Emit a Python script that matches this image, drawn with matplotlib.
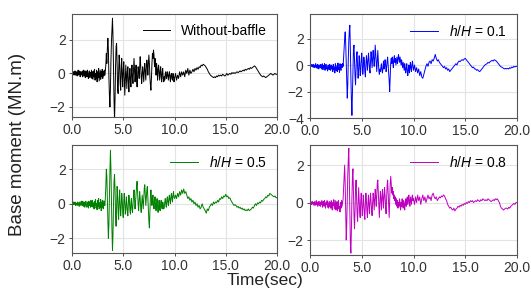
import numpy as np
import matplotlib
matplotlib.use("Agg")
import matplotlib.pyplot as plt

plt.rcParams['font.family'] = ['Liberation Sans', 'DejaVu Sans']
plt.rcParams['mathtext.fontset'] = 'custom'
plt.rcParams['mathtext.rm'] = 'Liberation Sans'
plt.rcParams['mathtext.it'] = 'Liberation Sans:italic'

# ---------------- data (MN.m) ----------------
# early part: 0.00 .. 9.95 s every 0.05 s ; late part: 10.0 .. 20.0 s every 0.1 s
early_step = 0.05
late_step = 0.1
late_start = 10.0

without_early = [
    0.0, 0.05, -0.05, 0.1, -0.1, 0.05, 0.15, -0.1, 0.0, 0.1, -0.15, 0.05, 0.2, -0.1, -0.05, 0.15, -0.2, 0.1, 0.0, -0.1,
    0.15, -0.2, 0.05, 0.2, -0.15, 0.1, -0.25, 0.15, 0.0, -0.2, 0.2, -0.1, -0.3, 0.1, 0.15, -0.25, 0.05, -0.1, 0.2, -0.3,
    0.1, -0.35, 0.15, -0.2, 0.25, -0.4, 0.0, -0.3, 0.2, -0.5, 0.1, -0.25, 0.3, -0.45, -0.1, 0.2, -0.35, 0.1, -0.2, 0.25,
    -0.3, 0.1, -0.15, 0.2, -0.1, 0.15, 0.5, 1.2, 0.6, 1.5, 2.1, 1.4, -0.2, -1.3, -2.0, -0.9, 0.8, 1.9, 2.6, 3.3,
    2.2, 0.3, -1.6, -2.8, -1.5, 0.4, 1.6, 1.8, 0.6, -0.9, -1.2, 0.1, 1.1, 0.6, -0.6, -1.0, 0.3, 0.9, -0.2, -0.8,
    0.2, 0.7, -0.4, -1.3, -0.3, 0.5, -0.2, -0.9, 0.1, 0.4, -0.5, -1.1, -0.2, 0.3, -0.4, -0.8, 0.0, 0.5, -0.3, -0.6,
    0.1, 0.9, 0.2, -0.5, -0.1, 0.5, -0.3, -0.8, -0.1, 0.4, 0.2, -0.3, 0.4, 1.0, 0.5, -0.2, -0.6, 0.0, 0.4, -0.1,
    -0.5, 0.2, 0.6, 0.1, -0.4, 0.3, 0.8, 0.5, -0.1, 0.6, 1.1, 0.6, -0.2, -0.7, -1.0, -0.3, 0.6, 1.2, 0.9, 1.4,
    1.1, 0.4, 0.9, 0.5, -0.1, 0.6, 0.3, -0.4, 0.2, 0.5, 0.0, -0.4, 0.1, 0.4, -0.2, -0.5, 0.1, 0.3, -0.3, -0.5,
    -0.2, -0.4, 0.0, 0.1, -0.3, -0.2, 0.1, -0.1, -0.4, -0.1, 0.1, -0.2, -0.5, -0.1, 0.0, -0.3, -0.4, 0.0, -0.1, -0.5,
]
without_late = [
    -0.3, 0.0, -0.4, -0.1, -0.3, 0.1, -0.2, 0.1, -0.1, 0.1,
    -0.2, 0.2, 0.0, 0.3, -0.1, 0.2, 0.0, 0.1, 0.25, 0.1,
    0.3, 0.2, 0.35, 0.25, 0.4, 0.35, 0.5, 0.45, 0.55, 0.5,
    0.45, 0.35, 0.25, 0.1, 0.0, -0.1, -0.15, -0.2, -0.25, -0.2,
    -0.25, -0.15, -0.2, -0.1, -0.15, -0.1, -0.15, -0.05, -0.1, -0.15,
    -0.1, 0.0, -0.1, -0.05, 0.0, -0.05, 0.05, 0.0, 0.05, 0.0,
    0.05, 0.1, 0.05, 0.1, 0.15, 0.1, 0.15, 0.2, 0.15, 0.25,
    0.2, 0.25, 0.3, 0.25, 0.35, 0.3, 0.35, 0.4, 0.45, 0.4,
    0.3, 0.2, 0.1, 0.0, -0.1, -0.15, -0.2, -0.15, -0.2, -0.25,
    -0.2, -0.15, -0.1, -0.05, 0.0, -0.05, -0.1, -0.05, 0.0, -0.05,
    -0.05,
]

h01_early = [
    0.0, -0.05, 0.05, -0.1, 0.0, -0.15, 0.05, -0.1, -0.2, 0.0, -0.15, 0.1, -0.2, -0.05, -0.25, 0.05, -0.1, -0.3, 0.0, -0.15,
    -0.2, 0.05, -0.3, -0.1, 0.1, -0.35, -0.05, -0.2, 0.1, -0.4, -0.1, 0.05, -0.3, -0.15, -0.45, 0.0, -0.2, -0.35, 0.05, -0.25,
    -0.4, 0.0, -0.3, -0.1, -0.5, 0.05, -0.35, -0.15, -0.6, 0.1, -0.3, -0.45, -0.05, -0.5, 0.15, -0.35, -0.2, -0.55, 0.1, -0.3,
    -0.4, 0.05, -0.2, 0.1, -0.1, 0.6, 1.4, 2.0, 2.5, 1.6, 0.2, -1.2, -2.5, -1.5, 0.4, 1.8, 2.6, 3.0, 1.2, -1.0,
    -2.6, -3.8, -2.2, -0.3, 1.2, 1.5, 0.4, -0.8, -1.5, -0.4, 0.8, 1.0, -0.2, -1.0, -0.3, 0.7, 0.2, -0.8, -0.5, 0.4,
    0.9, 0.1, -0.7, -0.2, 0.6, 0.3, -0.5, -0.9, 0.0, 0.7, 0.3, -0.4, 0.2, 0.9, 0.4, -0.3, -0.6, 0.3, 1.0, 0.5,
    -0.2, 0.4, 1.1, 0.6, -0.1, 0.5, 1.5, 0.8, 0.0, -0.5, 0.3, 1.1, 0.4, -0.4, -0.7, -0.3, -0.5, -0.2, 0.1, -0.4,
    -0.6, -0.2, 0.3, -0.3, -0.1, 0.4, 0.1, -0.5, -0.2, 0.3, 0.6, 0.0, -0.6, -1.2, -2.0, -0.8, 0.2, 0.5, 0.1, 0.6,
    0.3, -0.2, 0.4, 0.7, 0.2, 0.5, 0.0, 0.3, 0.6, 0.1, 0.4, 0.8, 0.5, 0.2, 0.6, 0.3, 0.0, 0.4, 0.1, -0.2,
    0.2, -0.1, -0.4, 0.1, -0.3, -0.6, -0.2, 0.1, -0.5, -0.8, -0.3, 0.0, -0.6, -0.3, 0.2, -0.2, -0.5, 0.0, 0.3, -0.1,
]
h01_late = [
    -0.4, 0.0, -0.5, -0.2, -0.6, -0.3, -0.8, -0.5, -0.9, -1.0,
    -0.7, -0.4, -0.1, 0.1, -0.1, 0.2, 0.3, 0.1, 0.4, 0.3,
    0.5, 0.8, 0.5, 0.3, 0.4, 0.2, 0.1, 0.0, -0.1, -0.2,
    -0.1, -0.3, -0.2, -0.4, -0.3, -0.5, -0.4, -0.3, -0.2, -0.1,
    0.0, 0.1, 0.0, 0.2, 0.3, 0.25, 0.35, 0.4, 0.35, 0.45,
    0.5, 0.4, 0.3, 0.2, 0.1, 0.0, -0.1, -0.2, -0.15, -0.3,
    -0.3, -0.4, -0.35, -0.45, -0.5, -0.4, -0.3, -0.2, -0.1, 0.0,
    0.05, 0.1, 0.2, 0.15, 0.25, 0.3, 0.35, 0.3, 0.4, 0.35,
    0.3, 0.2, 0.1, 0.0, -0.1, -0.15, -0.2, -0.25, -0.3, -0.25,
    -0.3, -0.25, -0.3, -0.2, -0.25, -0.15, -0.2, -0.1, -0.15, -0.1,
    -0.1,
]

h05_early = [
    0.0, 0.05, -0.05, 0.1, -0.05, 0.0, 0.1, -0.1, 0.05, 0.0, -0.1, 0.1, -0.05, 0.05, -0.15, 0.1, 0.0, -0.1, 0.15, -0.05,
    -0.1, 0.15, -0.15, 0.05, 0.1, -0.2, 0.0, 0.15, -0.1, -0.2, 0.1, 0.0, -0.25, 0.15, -0.1, 0.05, -0.2, 0.2, -0.15, 0.0,
    0.2, -0.2, 0.05, -0.3, 0.15, -0.1, 0.25, -0.25, 0.0, -0.35, 0.2, -0.15, 0.3, -0.3, 0.05, -0.2, 0.25, -0.4, 0.1, -0.2,
    0.2, -0.3, 0.0, 0.15, -0.1, 0.3, 1.0, 2.0, 1.6, 0.3, -1.0, -2.0, -1.2, 0.5, 1.9, 3.1, 2.0, 0.0, -1.6, -2.7,
    -1.8, 0.0, 1.3, 1.7, 0.8, -0.6, -1.3, -0.2, 1.0, 0.5, -0.5, -0.9, 0.2, 0.8, -0.1, -0.7, -0.2, 0.6, 0.3, -0.5,
    -0.8, 0.1, 0.6, 0.0, -0.6, -0.3, 0.4, 0.1, -0.5, -0.7, 0.0, 0.5, 0.2, -0.4, -0.6, 0.1, 0.3, -0.3, -0.5, 0.0,
    0.4, 0.8, 0.2, -0.3, 0.1, 0.6, 1.0, 1.3, 0.6, 0.0, -0.4, 0.2, 0.7, 0.3, -0.2, -0.5, 0.0, 0.5, 0.1, -0.3,
    0.3, 0.9, 1.1, 0.5, -0.1, 0.4, 0.8, 1.0, 0.3, -0.5, -1.0, -1.4, -0.4, 0.4, 0.8, 0.3, -0.1, 0.3, 0.5, 0.0,
    -0.3, 0.1, 0.4, -0.1, -0.4, 0.0, 0.3, -0.2, -0.5, -0.1, 0.2, -0.3, -0.4, 0.0, 0.2, -0.2, -0.3, 0.1, 0.0, -0.3,
    -0.2, 0.1, 0.3, 0.0, -0.2, 0.2, 0.4, 0.1, -0.1, 0.3, 0.5, 0.2, 0.0, 0.4, 0.6, 0.3, 0.1, 0.5, 0.7, 0.4,
]
h05_late = [
    0.3, 0.5, 0.3, 0.6, 0.4, 0.7, 0.5, 0.8, 0.6, 0.85,
    0.6, 0.7, 0.5, 0.3, 0.4, 0.2, 0.3, 0.1, 0.2, 0.0,
    0.1, -0.1, 0.0, -0.2, -0.1, -0.3, -0.2, 0.0, -0.2, -0.3,
    -0.4, -0.55, -0.3, -0.4, -0.2, -0.1, 0.0, -0.1, 0.1, 0.0,
    0.1, 0.05, 0.2, 0.1, 0.3, 0.25, 0.4, 0.3, 0.45, 0.4,
    0.55, 0.4, 0.45, 0.3, 0.35, 0.2, 0.1, 0.0, -0.1, -0.05,
    -0.1, -0.2, -0.15, -0.25, -0.2, -0.3, -0.25, -0.35, -0.3, -0.4,
    -0.35, -0.4, -0.3, -0.4, -0.35, -0.3, -0.2, -0.25, -0.1, 0.0,
    -0.1, 0.05, 0.0, 0.1, 0.05, 0.2, 0.15, 0.25, 0.3, 0.4,
    0.35, 0.5, 0.45, 0.6, 0.55, 0.5, 0.45, 0.4, 0.45, 0.35,
    0.35,
]

h08_early = [
    0.0, -0.05, 0.05, -0.1, 0.0, 0.05, -0.1, 0.0, -0.15, 0.05, -0.05, -0.15, 0.1, -0.1, 0.0, -0.2, 0.05, -0.1, -0.15, 0.05,
    -0.2, 0.0, -0.1, 0.1, -0.25, -0.05, 0.05, -0.2, 0.1, -0.15, -0.3, 0.0, -0.1, 0.1, -0.25, -0.05, -0.3, 0.05, -0.2, 0.0,
    -0.3, 0.1, -0.2, -0.4, 0.0, -0.15, 0.15, -0.35, -0.1, 0.1, -0.4, -0.2, 0.05, -0.45, -0.1, 0.1, -0.35, -0.2, -0.5, 0.0,
    -0.3, 0.1, -0.2, 0.0, 0.2, 0.8, 1.5, 2.0, 1.0, -0.5, -2.0, -1.2, 0.3, 1.5, 2.3, 2.9, 1.2, -0.8, -2.2, -2.7,
    -1.5, 0.2, 1.4, 1.8, 0.6, -0.7, -1.4, -0.5, 0.7, 1.2, 0.3, -0.6, -1.0, 0.0, 0.8, 0.2, -0.5, -0.8, 0.1, 0.5,
    -0.1, -0.7, -0.3, 0.4, 0.0, -0.6, -0.9, -0.1, 0.5, 0.1, -0.5, -0.8, 0.0, 0.4, -0.2, -0.6, 0.1, 0.5, 0.0, -0.4,
    -0.7, 0.0, 0.5, 0.2, -0.4, 0.1, 0.7, 0.3, -0.2, 0.4, 1.0, 1.2, 0.5, -0.3, -0.8, 0.0, 0.6, 0.3, -0.4, 0.2,
    0.7, 0.3, -0.3, 0.3, 0.8, 0.4, -0.2, -0.6, 0.2, 0.9, 1.2, 0.5, -0.3, -0.8, 0.2, 1.0, 1.4, 1.0, 0.5, 0.8,
    0.4, 0.6, 0.2, 0.4, 0.1, 0.3, -0.1, 0.2, -0.2, 0.1, -0.3, 0.0, -0.2, 0.2, -0.1, -0.4, 0.0, -0.2, 0.2, -0.1,
    -0.3, 0.1, -0.1, -0.4, 0.0, 0.2, -0.2, 0.1, 0.3, -0.1, 0.2, 0.4, 0.0, -0.2, 0.3, 0.1, -0.1, 0.3, 0.4, 0.1,
]
h08_late = [
    0.2, -0.1, 0.3, 0.0, 0.4, 0.1, 0.3, -0.1, 0.2, 0.4,
    0.1, 0.3, 0.0, 0.2, 0.4, 0.2, 0.3, 0.1, 0.4, 0.5,
    0.3, 0.2, 0.3, 0.1, 0.2, 0.3, 0.25, 0.35, 0.3, 0.4,
    0.35, 0.2, 0.1, -0.1, -0.2, -0.3, -0.25, -0.35, -0.4, -0.3,
    -0.45, -0.35, -0.3, -0.2, -0.25, -0.15, -0.2, -0.1, -0.15, -0.05,
    -0.1, 0.0, -0.05, 0.05, 0.0, 0.1, 0.05, 0.1, 0.0, 0.05,
    0.1, 0.05, 0.15, 0.1, 0.05, 0.15, 0.1, 0.2, 0.15, 0.1,
    0.15, 0.1, 0.2, 0.15, 0.1, 0.05, 0.1, 0.15, 0.1, 0.2,
    0.15, 0.2, 0.1, 0.0, -0.2, -0.3, -0.35, -0.4, -0.35, -0.3,
    -0.3, -0.35, -0.25, -0.3, -0.2, -0.15, -0.1, -0.05, -0.1, 0.0,
    0.0,
]

labels = ["Without-baffle", r"$h/H$ = 0.1", r"$h/H$ = 0.5", r"$h/H$ = 0.8"]
colors = ["black", "#0000ff", "#008000", "#c000c0"]
series = [(without_early, without_late), (h01_early, h01_late),
          (h05_early, h05_late), (h08_early, h08_late)]
ylims = [(-2.6, 3.55), (-4.0, 3.85), (-2.85, 3.4), (-2.8, 3.07)]
yticks = [[-2, 0, 2], [-4, -2, 0, 2], [-2, 0, 2], [-2, 0, 2]]
xticks = [0, 5, 10, 15, 20]

# axes rectangles in pixels (left, top, right, bottom)
W, H = 531, 289
rects_px = [(72, 14, 277, 117), (310, 14, 517, 118),
            (72, 145, 277, 253), (310, 145, 517, 255)]

fig = plt.figure(figsize=(W / 100, H / 100), dpi=100)

for (l, t, r, b), (e, la), lab, c, yl, yt in zip(rects_px, series, labels, colors, ylims, yticks):
    ax = fig.add_axes([l / W, 1 - b / H, (r - l) / W, (b - t) / H])
    te = np.arange(len(e)) * early_step
    tl = late_start + np.arange(len(la)) * late_step
    tt = np.concatenate([te, tl])
    yy = np.concatenate([np.array(e), np.array(la)])
    ax.plot(tt, yy, color=c, lw=0.7, label=lab)
    ax.set_xlim(0, 20)
    ax.set_ylim(*yl)
    ax.set_xticks(xticks)
    ax.set_xticklabels([f"{v:.1f}" for v in xticks])
    ax.set_yticks(yt)
    ax.grid(True, color="#e3e3e3", lw=0.8)
    ax.set_axisbelow(True)
    for s in ax.spines.values():
        s.set_color("#555555")
        s.set_linewidth(0.8)
    ax.tick_params(labelsize=10, colors="#333333", length=2.5, width=0.6, pad=2)
    ax.legend(loc="upper right", frameon=False, fontsize=10, handlelength=2.0,
              borderaxespad=0.3)

fig.text(265 / W, 1 - 281 / H, "Time(sec)", ha="center", va="center", fontsize=12.5, color="#222222")
fig.text(18 / W, 0.5, "Base moment (MN.m)", ha="center", va="center", rotation=90,
         fontsize=13.5, color="#222222")

fig.savefig("out.png", dpi=100)
